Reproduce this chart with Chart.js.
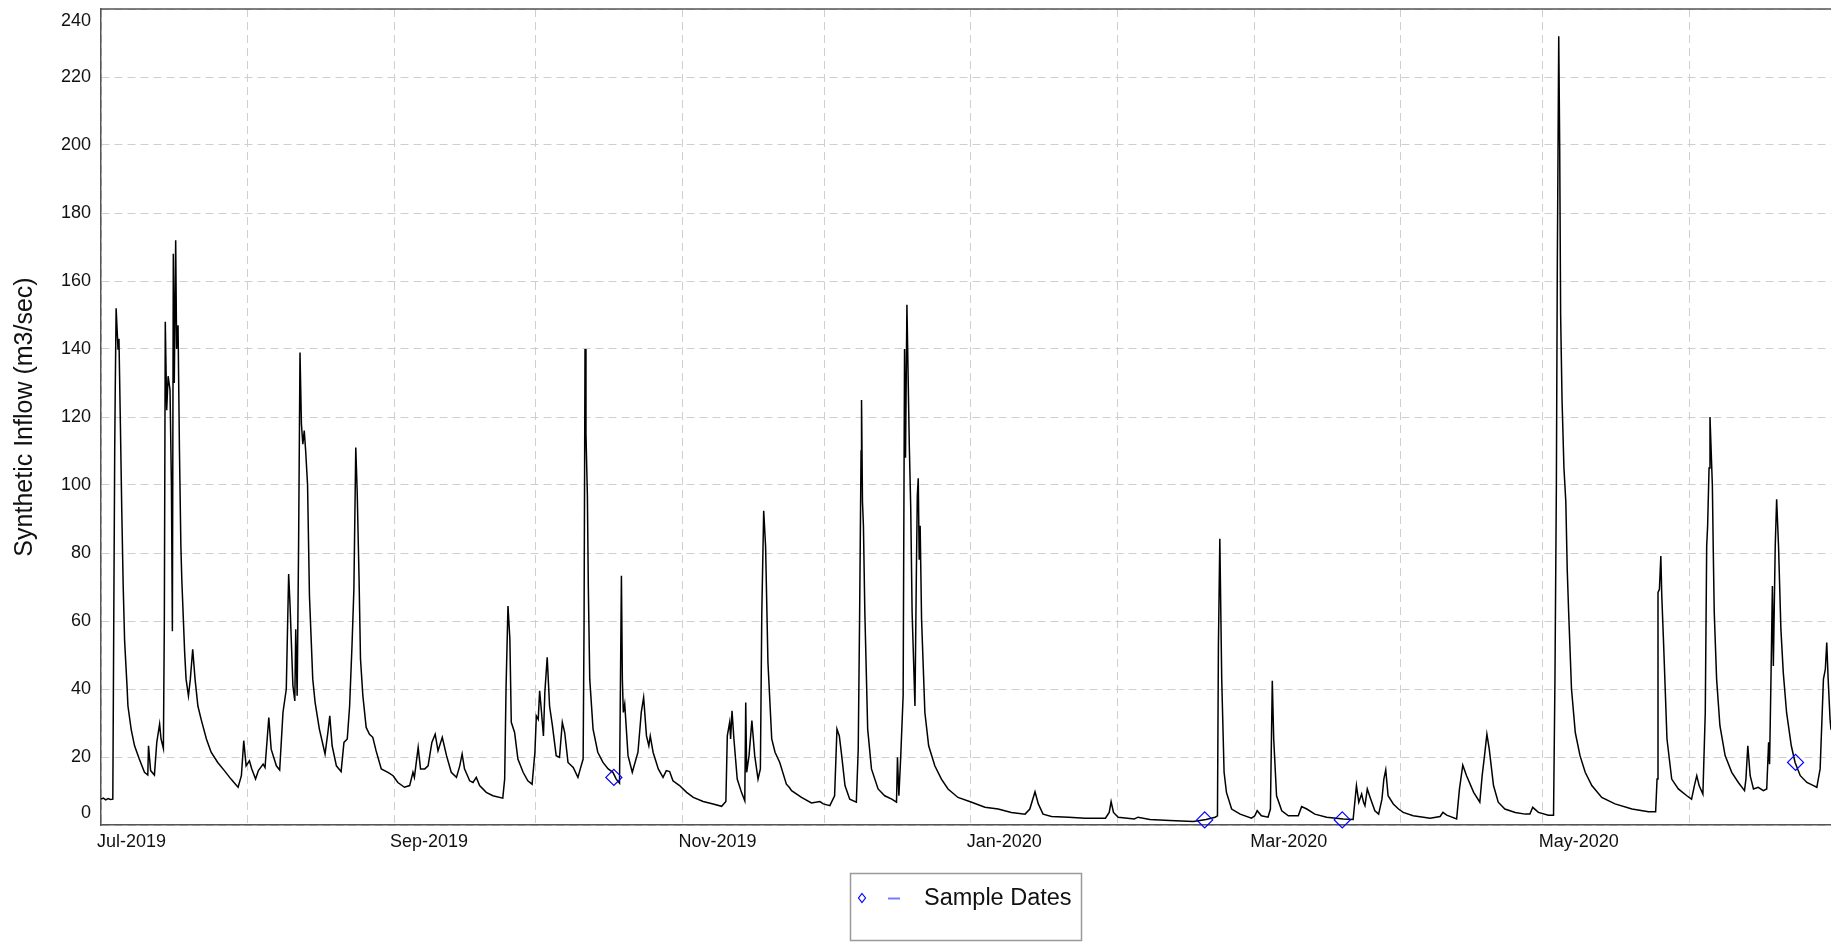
<!DOCTYPE html>
<html>
<head>
<meta charset="utf-8">
<script src="https://cdn.jsdelivr.net/npm/chart.js@4.4.1/dist/chart.umd.min.js"></script>
<style>
html,body{margin:0;padding:0;background:#fff;overflow:hidden}
#wrap{width:1831px;height:942px;position:relative}
</style>
</head>
<body>
<div id="wrap"><canvas id="c" width="1831" height="942"></canvas></div>
<script>
// ---- DATA (days since 2019-07-01, synthetic inflow m3/sec) ----
const startDate = '2019-07-01';
const dayOffsets = [
  0.0, 0.5, 1.0, 1.5, 2.0, 2.5, 2.7, 2.9, 3.0, 3.2,
  3.4, 3.6, 3.8, 4.1, 4.4, 4.7, 5.0, 5.5, 5.7, 6.4,
  7.1, 8.1, 9.2, 9.9, 10.05, 10.5, 11.3, 11.8, 12.4, 12.7,
  13.2, 13.4, 13.6, 13.9, 14.2, 14.6, 14.9, 15.1, 15.3, 15.5,
  15.8, 16.0, 16.3, 16.6, 16.9, 17.1, 17.7, 18.0, 18.5, 18.9,
  19.4, 19.9, 20.5, 21.2, 22.3, 23.3, 24.7, 26.1, 27.5, 29.0,
  29.7, 30.2, 30.7, 31.4, 31.9, 32.7, 33.3, 34.3, 34.7, 35.5,
  36.0, 37.1, 37.8, 38.5, 39.2, 39.7, 40.0, 40.6, 41.0, 41.2,
  41.5, 41.8, 42.1, 42.4, 42.7, 43.0, 43.3, 43.7, 44.1, 44.8,
  45.3, 46.2, 47.4, 48.0, 48.4, 48.9, 49.8, 50.8, 51.4, 52.1,
  52.6, 53.1, 53.5, 53.9, 54.2, 54.6, 54.9, 55.4, 56.1, 56.8,
  57.5, 58.2, 59.3, 60.7, 61.8, 62.8, 64.2, 65.3, 66.0, 66.3,
  67.1, 67.6, 68.5, 69.2, 70.0, 70.7, 71.3, 72.2, 73.1, 74.1,
  75.2, 75.9, 76.4, 76.9, 78.0, 78.7, 79.4, 80.1, 81.5, 82.9,
  85.0, 85.4, 85.7, 86.1, 86.5, 86.8, 87.5, 88.2, 89.3, 90.3,
  91.2, 91.8, 92.1, 92.5, 92.8, 93.2, 93.6, 93.9, 94.4, 94.9,
  95.5, 96.3, 97.0, 97.6, 98.1, 98.8, 99.9, 100.9, 101.4, 102.0,
  102.2, 102.4, 102.6, 102.9, 103.1, 103.4, 104.1, 105.1, 106.2, 107.3,
  108.3, 109.0, 109.7, 110.1, 110.3, 110.5, 110.8, 111.5, 112.4, 113.6,
  114.3, 114.8, 115.4, 115.9, 116.2, 116.8, 117.9, 118.9, 119.6, 120.3,
  121.0, 122.4, 123.9, 125.3, 127.4, 129.5, 131.3, 132.2, 132.5, 133.0,
  133.2, 133.5, 133.9, 134.6, 135.5, 136.2, 136.4, 136.6, 137.1, 137.7,
  138.3, 139.0, 139.5, 139.8, 140.2, 140.6, 141.1, 141.9, 142.6, 143.6,
  145.0, 145.6, 146.1, 148.2, 150.3, 152.1, 152.8, 154.2, 155.2, 155.7,
  156.2, 156.7, 157.4, 158.4, 159.8, 160.2, 160.5, 160.8, 160.9, 161.1,
  161.3, 161.6, 162.2, 163.0, 164.4, 165.8, 167.3, 168.3, 168.5, 168.8,
  169.2, 169.7, 170.0, 170.2, 170.5, 171.0, 171.3, 171.6, 172.2, 172.5,
  172.7, 172.9, 173.1, 173.3, 173.6, 174.3, 175.1, 176.4, 177.8, 179.2,
  181.3, 184.2, 187.0, 189.8, 192.6, 195.5, 196.5, 197.6, 198.3, 199.3,
  201.1, 204.7, 208.2, 212.5, 213.3, 213.7, 214.2, 215.2, 218.6, 219.4,
  221.9, 226.1, 231.1, 233.8, 235.7, 236.2, 236.4, 236.7, 237.1, 237.6,
  238.1, 239.2, 241.0, 243.4, 244.1, 244.6, 245.5, 246.9, 247.4, 247.8,
  248.1, 248.7, 249.8, 251.2, 253.3, 254.0, 255.1, 256.8, 259.3, 262.8,
  264.9, 265.6, 266.1, 266.7, 267.1, 267.4, 267.9, 268.5, 269.5, 270.3,
  271.0, 271.4, 271.8, 272.3, 273.4, 274.5, 275.5, 277.6, 281.2, 283.3,
  283.9, 284.7, 286.8, 287.4, 288.1, 288.9, 290.4, 291.7, 292.2, 292.7,
  293.2, 293.7, 294.6, 295.6, 297.0, 299.2, 301.3, 302.3, 302.9, 304.1,
  306.2, 307.3, 307.6, 307.9, 308.1, 308.4, 308.6, 308.8, 309.1, 309.5,
  309.9, 310.2, 310.5, 311.1, 311.9, 312.9, 314.0, 315.4, 317.5, 320.3,
  323.9, 327.4, 328.9, 329.2, 329.4, 329.7, 330.0, 330.2, 330.6, 331.3,
  332.3, 333.7, 335.5, 336.5, 337.1, 337.6, 338.1, 338.9, 339.4, 339.7,
  339.9, 340.2, 340.4, 340.6, 340.9, 341.1, 341.3, 341.8, 342.5, 343.6,
  345.0, 346.4, 347.7, 348.0, 348.4, 348.9, 349.6, 350.6, 351.7, 352.4,
  352.8, 353.0, 353.3, 353.6, 353.8, 354.2, 354.5, 354.9, 355.4, 355.9,
  356.6, 357.6, 358.4, 359.5, 360.9, 362.3, 363.0, 363.7, 364.4, 364.8,
  365.1, 365.4, 365.8, 366.0
];
const flows = [
  7.6, 7.9, 7.4, 7.8, 7.5, 7.6, 60, 110, 126, 152,
  146, 140, 143, 118, 92, 70, 54, 41, 35, 28,
  23.3, 19.4, 15.5, 14.7, 23.3, 16, 14.7, 24.3, 29.7, 25.3,
  22.5, 60, 148, 122, 132, 128, 100, 57, 168, 130,
  172, 140, 147, 110, 82, 72, 50.7, 42.9, 38, 42.9,
  51.7, 42.9, 35, 31, 25.3, 21.4, 18.4, 16, 13.5, 11.1,
  14.5, 24.8, 17.4, 18.9, 16.5, 13.5, 16, 17.9, 16.9, 31.6,
  22.3, 17.4, 16.2, 33.1, 40, 73.8, 64.4, 41, 36.5, 57.6,
  38, 82, 139, 118, 112, 116, 110, 100, 67.4, 42.9,
  36, 28.2, 20.9, 27.2, 32.1, 23.3, 17.4, 15.7, 24.3, 25.3,
  35, 52.7, 69.3, 111, 98, 72, 48.8, 38, 28.7, 26.7,
  25.8, 21.8, 16.5, 15.5, 14.5, 12.5, 11.1, 11.6, 15.5, 14,
  22.8, 16.5, 16.5, 17.4, 24.3, 26.7, 21.8, 25.8, 20.4, 15.5,
  14, 17.4, 20.9, 16.5, 13, 12.5, 14, 11.6, 9.6, 8.6,
  7.9, 13.5, 40.9, 64.4, 54.7, 30.2, 27.2, 19.4, 15.5, 13,
  12, 21.4, 32.1, 31.1, 39.5, 33.1, 26.2, 39, 49.3, 35,
  29.2, 20.4, 19.9, 30.2, 27.2, 18.4, 16.9, 14, 16.5, 19.4,
  60, 140, 115, 97, 70, 42.9, 28.2, 21.4, 18.4, 16.5,
  15.5, 13.5, 12.3, 73.3, 42.9, 33.1, 35.6, 20.4, 15.5, 21.4,
  33.1, 37.5, 26.2, 23.3, 26.2, 21.4, 16.5, 14, 16, 15.7,
  13, 11.6, 9.6, 8.1, 6.9, 6.2, 5.5, 6.9, 26.2, 30.2,
  25.3, 33.6, 25.3, 13.5, 9.6, 7.1, 36, 15.5, 20.4, 30.7,
  20.4, 13.5, 16.5, 62.5, 92.4, 82, 47.8, 25.3, 21.4, 18.4,
  12, 11.1, 10.1, 8.1, 6.5, 6.9, 6.2, 5.7, 8.6, 28.2,
  26.2, 20.4, 11.6, 7.6, 6.7, 22.3, 62.5, 110, 125, 95,
  88, 62.5, 28.2, 16.5, 10.6, 8.6, 7.6, 6.7, 19.9, 8.6,
  20.4, 38, 140, 108, 153, 112, 93.8, 62.5, 35, 74.2,
  96.8, 102, 78, 88, 60.5, 33.1, 23.3, 17.4, 13.5, 10.6,
  8.1, 6.7, 5.2, 4.7, 3.7, 3.2, 4.7, 9.8, 6.2, 3.2,
  2.5, 2.3, 2.0, 2.0, 3.7, 6.9, 3.7, 2.3, 1.8, 2.3,
  1.6, 1.3, 1.0, 1.6, 2.3, 2.7, 52.7, 84.2, 42.9, 15.5,
  9.6, 4.7, 3.2, 2.0, 2.7, 4.2, 2.7, 2.3, 4.7, 42.4,
  25.3, 8.6, 4.2, 2.7, 2.7, 5.4, 4.7, 3.2, 2.3, 1.8,
  1.6, 11.6, 6.7, 9.1, 6.7, 5.7, 10.6, 8.1, 4.2, 3.2,
  7.6, 13.5, 16.2, 8.6, 6.2, 4.7, 3.7, 2.7, 2.0, 2.5,
  3.7, 2.9, 1.8, 10.6, 17.6, 14.5, 9.6, 6.7, 14.5, 20.4,
  26.7, 22.3, 11.6, 6.7, 4.7, 3.7, 3.2, 3.2, 5.2, 3.7,
  2.9, 2.9, 42.9, 100, 165, 232, 200, 150, 125, 105,
  95, 75, 62.5, 40, 27.2, 20.4, 15.5, 11.6, 8.1, 6.2,
  4.7, 3.9, 3.9, 13.5, 68.4, 69.3, 79.1, 67.4, 52.7, 25.3,
  13.5, 10.6, 8.6, 7.6, 11.6, 14.5, 11.6, 9.1, 33.1, 82,
  88, 105, 120, 112, 100, 80, 62.5, 42.9, 29.2, 20.4,
  15.5, 12.5, 10.1, 13.5, 23.3, 14.5, 10.6, 11.1, 10.1, 10.6,
  24.3, 17.9, 42.9, 70.3, 46.8, 82, 95.8, 82, 57.6, 44.9,
  33.1, 23.3, 18.4, 14.5, 12.5, 11.6, 11.1, 16.5, 42.9, 45.8,
  53.7, 42.9, 31.1, 28
];
// Sample dates (days since start) and the flow at those dates
const sampleDays = [108.5, 233.5, 262.6, 358.5];
const sampleFlows = [14.0, 1.5, 1.5, 18.4];

// X ticks: first day of each month (days since start) and their labels
const monthTickDays = [0, 31, 62, 92, 123, 153, 184, 215, 244, 275, 305, 336, 366];
const monthTickLabels = ['Jul-2019', '', 'Sep-2019', '', 'Nov-2019', '', 'Jan-2020', '', 'Mar-2020', '', 'May-2020', '', ''];
// Y ticks
const yTickValues = [0, 20, 40, 60, 80, 100, 120, 140, 160, 180, 200, 220, 240];

const yTitle = 'Synthetic Inflow (m3/sec)';
const legendLabel = 'Sample Dates';

// ---- CHART ----
const FONT = '"Liberation Sans", Arial, Helvetica, sans-serif';
Chart.defaults.font.family = FONT;

const framePlugin = {
  id: 'frame',
  afterDraw(chart) {
    const {ctx, chartArea: a} = chart;
    const y = chart.scales.y;
    ctx.save();
    // top frame line
    ctx.strokeStyle = '#555';
    ctx.lineWidth = 1.5;
    ctx.beginPath();
    ctx.moveTo(a.left, a.top);
    ctx.lineTo(a.right, a.top);
    ctx.stroke();
    // end tick labels kept inside the plot height
    ctx.font = '18px ' + FONT;
    ctx.fillStyle = '#111';
    ctx.textAlign = 'right';
    ctx.textBaseline = 'middle';
    const vmin = yTickValues[0], vmax = yTickValues[yTickValues.length - 1];
    ctx.fillText(String(vmax), a.left - 10, y.getPixelForValue(vmax) + 12);
    ctx.fillText(String(vmin), a.left - 10, y.getPixelForValue(vmin) - 12);
    // boxed legend
    ctx.strokeStyle = '#9a9a9a';
    ctx.lineWidth = 1.5;
    ctx.strokeRect(850.5, 873.5, 231, 67);
    ctx.strokeStyle = '#0000ff';
    ctx.lineWidth = 1.2;
    ctx.beginPath();
    ctx.moveTo(862, 893.5); ctx.lineTo(865.5, 898); ctx.lineTo(862, 902.5); ctx.lineTo(858.5, 898); ctx.closePath();
    ctx.stroke();
    ctx.strokeStyle = '#7a7aff';
    ctx.lineWidth = 2;
    ctx.beginPath();
    ctx.moveTo(888, 898.5); ctx.lineTo(900, 898.5);
    ctx.stroke();
    ctx.fillStyle = '#111';
    ctx.font = '23.5px ' + FONT;
    ctx.textAlign = 'left';
    ctx.textBaseline = 'middle';
    ctx.fillText(legendLabel, 924, 899);
    ctx.restore();
  }
};

new Chart(document.getElementById('c'), {
  type: 'line',
  data: {
    datasets: [
      {
        label: legendLabel,
        data: sampleDays.map((d, i) => ({x: d, y: sampleFlows[i]})),
        showLine: false,
        pointStyle: 'rectRot',
        pointRadius: 8,
        pointBorderColor: '#0000ff',
        pointBackgroundColor: 'rgba(0,0,0,0)',
        pointBorderWidth: 1.2,
        clip: false,
        order: 0
      },
      {
        label: 'Synthetic Inflow',
        data: dayOffsets.map((d, i) => ({x: d, y: flows[i]})),
        borderColor: '#000',
        borderWidth: 1.5,
        pointRadius: 0,
        tension: 0,
        fill: false,
        order: 1
      }
    ]
  },
  options: {
    responsive: false,
    devicePixelRatio: 1,
    animation: false,
    events: [],
    layout: {autoPadding: false, padding: {top: 9, left: 0, right: 0, bottom: 0}},
    plugins: {legend: {display: false}, tooltip: {enabled: false}, title: {display: false}},
    scales: {
      x: {
        type: 'linear',
        min: monthTickDays[0],
        max: monthTickDays[monthTickDays.length - 1],
        afterBuildTicks(scale) { scale.ticks = monthTickDays.map(v => ({value: v})); },
        afterFit(scale) { scale.height = 117; scale.paddingLeft = 0; scale.paddingRight = 0; },
        ticks: {
          autoSkip: false,
          maxRotation: 0,
          minRotation: 0,
          align: 'start',
          labelOffset: -4,
          padding: 6,
          color: '#111',
          font: {size: 18},
          callback(value) {
            const i = monthTickDays.indexOf(value);
            return i >= 0 ? monthTickLabels[i] : '';
          }
        },
        grid: {color: '#cfcfcf', lineWidth: 1, drawTicks: false},
        border: {display: true, color: '#555', width: 1.5, dash: [8, 5]}
      },
      y: {
        type: 'linear',
        min: yTickValues[0],
        max: yTickValues[yTickValues.length - 1],
        afterBuildTicks(scale) { scale.ticks = yTickValues.map(v => ({value: v})); },
        afterFit(scale) { scale.width = 101; scale.paddingTop = 0; scale.paddingBottom = 0; },
        ticks: {
          padding: 10,
          font: {size: 18},
          color(ctx) {
            const v = ctx.tick && ctx.tick.value;
            return (v === yTickValues[0] || v === yTickValues[yTickValues.length - 1]) ? 'rgba(0,0,0,0)' : '#111';
          }
        },
        title: {display: true, text: yTitle, color: '#111', font: {size: 25}, padding: {top: 10, bottom: 0}},
        grid: {color: '#cfcfcf', lineWidth: 1, drawTicks: false},
        border: {display: true, color: '#555', width: 1.5, dash: [8, 5]}
      }
    }
  },
  plugins: [framePlugin]
});
</script>
</body>
</html>
